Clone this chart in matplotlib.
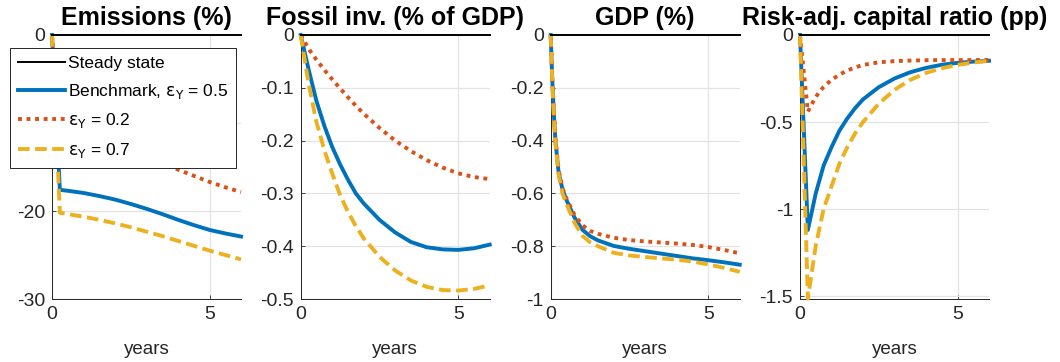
import matplotlib
matplotlib.use('Agg')
import matplotlib.pyplot as plt
from matplotlib.ticker import FuncFormatter

plt.rcParams['font.family'] = ['Liberation Sans', 'DejaVu Sans']
plt.rcParams['mathtext.fontset'] = 'dejavusans'
plt.rcParams['axes.unicode_minus'] = False

# impulse responses, horizon in years
t_em = [0, 0.25, 0.5, 1, 1.5, 2, 2.5, 3, 3.5, 4, 4.5, 5, 5.5, 6]
em_bench = [0, -17.6, -17.7, -17.95, -18.3, -18.7, -19.2, -19.75, -20.35, -21.0, -21.6, -22.15, -22.55, -22.9]
em_low = [0, -11.5, -11.6, -11.9, -12.3, -12.8, -13.35, -13.95, -14.6, -15.3, -16.0, -16.7, -17.3, -17.85]
em_high = [0, -20.2, -20.35, -20.65, -21.0, -21.4, -21.85, -22.35, -22.85, -23.4, -23.95, -24.5, -25.0, -25.5]

t_q = [0, 0.25, 0.5, 0.75, 1, 1.25, 1.5, 1.75, 2, 2.5, 3, 3.5, 4, 4.5, 5, 5.5, 6]
fi_bench = [0, -0.065, -0.125, -0.172, -0.212, -0.245, -0.274, -0.300, -0.319, -0.350, -0.374, -0.392, -0.402, -0.406, -0.407, -0.404, -0.397]
fi_low = [0, -0.026, -0.047, -0.066, -0.084, -0.101, -0.118, -0.134, -0.149, -0.176, -0.200, -0.220, -0.237, -0.251, -0.262, -0.269, -0.273]
fi_high = [0, -0.092, -0.165, -0.218, -0.262, -0.303, -0.335, -0.362, -0.385, -0.420, -0.446, -0.465, -0.477, -0.483, -0.484, -0.481, -0.474]

t_gdp = [0, 0.05, 0.1, 0.15, 0.25, 0.375, 0.5, 0.75, 1, 1.25, 1.5, 2, 2.5, 3, 3.5, 4, 4.5, 5, 5.5, 6]
gdp_bench = [0, -0.17, -0.30, -0.40, -0.52, -0.585, -0.625, -0.69, -0.737, -0.762, -0.778, -0.799, -0.810, -0.819, -0.828, -0.837, -0.846, -0.853, -0.861, -0.870]
gdp_low = [0, -0.16, -0.29, -0.39, -0.51, -0.58, -0.62, -0.68, -0.72, -0.742, -0.753, -0.768, -0.777, -0.782, -0.786, -0.790, -0.795, -0.803, -0.814, -0.827]
gdp_high = [0, -0.18, -0.31, -0.41, -0.53, -0.60, -0.64, -0.71, -0.76, -0.785, -0.800, -0.825, -0.835, -0.841, -0.846, -0.851, -0.858, -0.869, -0.882, -0.897]

cr_bench = [0, -1.12, -0.91, -0.75, -0.645, -0.55, -0.48, -0.42, -0.37, -0.30, -0.25, -0.214, -0.189, -0.171, -0.16, -0.153, -0.148]
cr_low = [0, -0.44, -0.355, -0.298, -0.258, -0.228, -0.204, -0.186, -0.172, -0.157, -0.15, -0.147, -0.145, -0.144, -0.144, -0.144, -0.143]
cr_high = [0, -1.515, -1.21, -1.0, -0.87, -0.74, -0.645, -0.565, -0.5, -0.395, -0.315, -0.258, -0.218, -0.191, -0.172, -0.158, -0.149]

titles = ['Emissions (%)', 'Fossil inv. (% of GDP)', 'GDP (%)', 'Risk-adj. capital ratio (pp)']
labels = ['Steady state', r'Benchmark, $\mathrm{\epsilon_Y}$ = 0.5',
          r'$\mathrm{\epsilon_Y}$ = 0.2', r'$\mathrm{\epsilon_Y}$ = 0.7']
panels = [(t_em, em_bench, em_low, em_high, (-30, 0), [-30, -20, -10, 0]),
          (t_q, fi_bench, fi_low, fi_high, (-0.5, 0), [-0.5, -0.4, -0.3, -0.2, -0.1, 0]),
          (t_gdp, gdp_bench, gdp_low, gdp_high, (-1, 0), [-1, -0.8, -0.6, -0.4, -0.2, 0]),
          (t_q, cr_bench, cr_low, cr_high, (-1.517, 0), [-1.5, -1, -0.5, 0])]

blue = '#0072BD'
red = '#D95319'
yellow = '#EDB120'
axcol = '#262626'

W, H = 1060, 362
fig = plt.figure(figsize=(W / 100, H / 100), dpi=100)
lefts = [52, 300.7, 550.7, 800]
width = 189
top, bottom = 35, 299

axes = []
for i, (t, bench, low, high, ylim, yt) in enumerate(panels):
    ax = fig.add_axes([lefts[i] / W, 1 - bottom / H, width / W, (bottom - top) / H])
    ax.plot([0, 6], [0, 0], color='k', lw=1.4, clip_on=False, label=labels[0], zorder=4)
    ax.plot(t, bench, color=blue, lw=2.8, clip_on=False, label=labels[1], zorder=3)
    ax.plot(t, low, color=red, lw=2.8, ls=(0, (1, 1.2)), clip_on=False, label=labels[2], zorder=3)
    ax.plot(t, high, color=yellow, lw=2.8, ls=(0, (3, 1.4)), clip_on=False, label=labels[3], zorder=3)
    ax.set_xlim(0, 6)
    ax.set_ylim(*ylim)
    ax.set_xticks([0, 5])
    ax.set_yticks(yt)
    ax.yaxis.set_major_formatter(FuncFormatter(lambda v, p: '%g' % v))
    ax.grid(True, color='#E3E3E3', lw=0.9)
    ax.set_axisbelow(True)
    for s in ['top', 'right']:
        ax.spines[s].set_visible(False)
    for s in ['left', 'bottom']:
        ax.spines[s].set_color(axcol)
        ax.spines[s].set_linewidth(0.7)
    ax.tick_params(direction='in', length=3, width=0.6, colors=axcol, labelsize=14, pad=5)
    ax.set_title(titles[i], fontsize=18, fontweight='bold', pad=7)
    ax.set_xlabel('years', fontsize=13.5, color=axcol, labelpad=13)
    axes.append(ax)

leg = axes[0].legend(loc='upper left', bbox_to_anchor=(10 / W, 1 - 48 / H),
                     bbox_transform=fig.transFigure, borderaxespad=0,
                     fontsize=12.5, handlelength=2.7, handletextpad=0.2,
                     borderpad=0.45, labelspacing=0.62, fancybox=False,
                     framealpha=1, edgecolor=axcol)
leg.get_frame().set_linewidth(0.7)
leg.set_zorder(10)

fig.savefig('out.png', dpi=100)
